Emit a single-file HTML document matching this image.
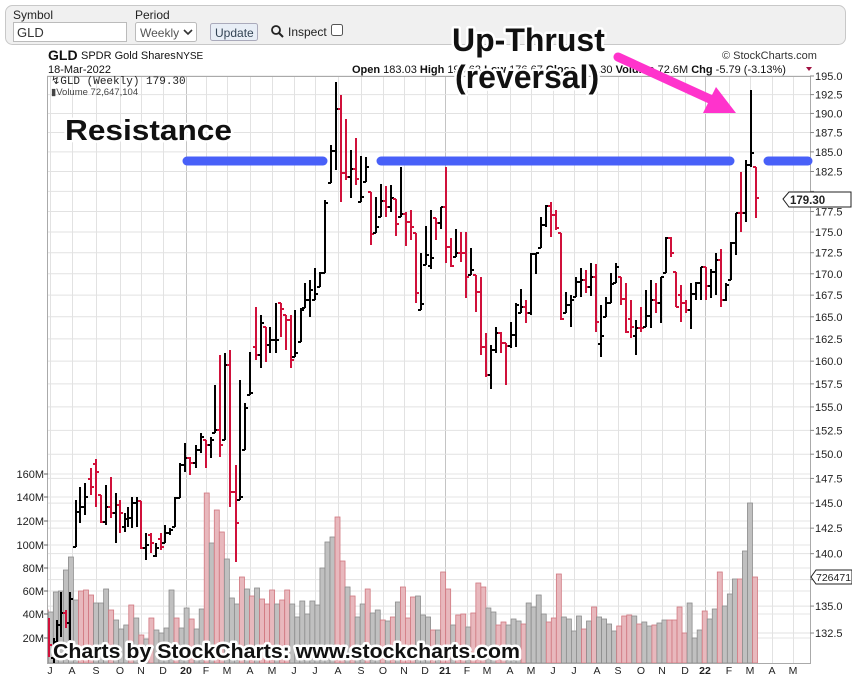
<!DOCTYPE html>
<html><head><meta charset="utf-8"><style>
html,body{margin:0;padding:0;background:#fff;width:852px;height:683px;overflow:hidden;font-family:"Liberation Sans",Arial,sans-serif;}
</style></head><body>
<svg id="s" width="852" height="683" xmlns="http://www.w3.org/2000/svg" font-family="Liberation Sans, Arial, sans-serif">
<defs><clipPath id="pc"><rect x="47" y="76" width="763" height="587"/></clipPath></defs>
<rect x="5.5" y="5.5" width="840" height="39" rx="7" fill="#f0f0f0" stroke="#c8c8c8"/>
<text x="13" y="19" font-size="12" fill="#222">Symbol</text>
<rect x="13.5" y="22.5" width="113" height="19" fill="#fff" stroke="#bbb"/>
<text x="17" y="37" font-size="13" fill="#333">GLD</text>
<text x="135" y="19" font-size="12" fill="#222">Period</text>
<rect x="135.5" y="22.5" width="61" height="19" rx="2" fill="#fff" stroke="#bbb"/>
<text x="140" y="37" font-size="12" fill="#555">Weekly</text>
<path d="M184 30 l4 4 l4 -4" stroke="#333" stroke-width="1.6" fill="none"/>
<rect x="210.5" y="23.5" width="47" height="17" rx="2" fill="#e8eef6" stroke="#aab"/>
<text x="215" y="37" font-size="12" fill="#345">Update</text>
<circle cx="276" cy="30" r="4" stroke="#222" stroke-width="1.8" fill="none"/><path d="M279 33 l4 4" stroke="#222" stroke-width="2"/>
<text x="288" y="36" font-size="12" fill="#222">Inspect</text>
<rect x="331.5" y="24.5" width="11" height="11" rx="2" fill="#fff" stroke="#555"/>
<text x="48" y="60" font-size="14" font-weight="bold" fill="#111">GLD</text>
<text x="81" y="59" font-size="11" fill="#111">SPDR Gold Shares</text>
<text x="176" y="59" font-size="10" fill="#111">NYSE</text>
<text x="48" y="73" font-size="11" fill="#111">18-Mar-2022</text>
<text x="352" y="73" font-size="11" fill="#111"><tspan font-weight="bold">Open</tspan> 183.03 <tspan font-weight="bold">High</tspan> 193.63 <tspan font-weight="bold">Low</tspan> 176.67 <tspan font-weight="bold">Close</tspan> 179.30 <tspan font-weight="bold">Volume</tspan> 72.6M <tspan font-weight="bold">Chg</tspan> -5.79 (-3.13%)</text>
<path d="M806 67 l6 0 l-3 4z" fill="#a01040"/>
<text x="722" y="59" font-size="11" fill="#333">© StockCharts.com</text>
<g id="grid"></g>
<g id="vol" clip-path="url(#pc)"></g>
<g id="price" clip-path="url(#pc)"></g>
<rect x="47.5" y="76.5" width="763" height="587" fill="none" stroke="#aaa"/>
<g id="axes" font-size="11" fill="#222"></g>
<text x="51" y="84" font-size="11" font-family="Liberation Mono, monospace" fill="#222">↯GLD (Weekly) 179.30</text>
<text x="51" y="95" font-size="9.5" fill="#444">▮Volume 72,647,104</text>
<g font-weight="bold" fill="#111" stroke="#fff" stroke-width="5" paint-order="stroke" stroke-linejoin="round">
<text x="65" y="140" font-size="29" textLength="167" lengthAdjust="spacingAndGlyphs">Resistance</text>
<text x="452" y="51" font-size="32">Up-Thrust</text>
<text x="455" y="88" font-size="32">(reversal)</text>
<text x="53" y="658" font-size="20" textLength="467" lengthAdjust="spacingAndGlyphs">Charts by StockCharts:  www.stockcharts.com</text>
</g>
<g stroke="#4860f8" stroke-width="9" stroke-linecap="round">
<line x1="187" y1="161" x2="323" y2="161"/><line x1="381" y1="161" x2="730" y2="161"/><line x1="768" y1="161" x2="808" y2="161"/>
</g>
<line x1="618" y1="57" x2="712" y2="100" stroke="#ff33cc" stroke-width="9" stroke-linecap="round"/>
<polygon points="703,113 736,113 716,87" fill="#ff33cc"/>
</svg>
<script>
const NS="http://www.w3.org/2000/svg";
function el(p,t,a,txt){const e=document.createElementNS(NS,t);for(const k in a)e.setAttribute(k,a[k]);if(txt!==undefined)e.textContent=txt;document.getElementById(p).appendChild(e);return e;}
const Y=p=>76+1441.5*(5.2730-Math.log(p));
const mx=[50,72,96,120,141,163,186,206,227,250,272,294,315,338,361,383,404,425,445,467,487,510,531,553,574,597,618,641,662,685,705,729,750,772,793];
const ml=["J","A","S","O","N","D","20","F","M","A","M","J","J","A","S","O","N","D","21","F","M","A","M","J","J","A","S","O","N","D","22","F","M","A","M"];
mx.forEach((x,i)=>{el("grid","line",{x1:x+.5,x2:x+.5,y1:77,y2:663,stroke:/\d/.test(ml[i])?"#c4c4c4":"#e2e2e2"});
 el("axes","text",{x:x,y:674,"text-anchor":"middle","font-size":"10.5","font-weight":/\d/.test(ml[i])?"bold":"normal"},ml[i]);});
for(let p=132.5;p<=195.01;p+=2.5){const y=Y(p);el("grid","line",{x1:47,x2:810,y1:y,y2:y,stroke:"#e2e2e2"});
 el("axes","line",{x1:810,x2:814,y1:y,y2:y,stroke:"#888"});
 if(Math.abs(p-180)>0.1)el("axes","text",{x:815,y:y+4,"font-size":"11"},p.toFixed(1));}
const vl=[["160M",474],["140M",497],["120M",521],["100M",545],["80M",568],["60M",591],["40M",614],["20M",638]];
vl.forEach(([t,y])=>{el("grid","line",{x1:47,x2:810,y1:y,y2:y,stroke:"#e6e6e6"});el("axes","text",{x:44,y:y+4,"text-anchor":"end","font-size":"11"},t);el("axes","line",{x1:44,x2:48,y1:y,y2:y,stroke:"#666"});});
el("axes","path",{d:"M783 199 l6 -7 h62 v15 h-62z",fill:"#fff",stroke:"#222"});
el("axes","text",{x:790,y:204,"font-size":"11.5","font-weight":"bold"},"179.30");
el("axes","path",{d:"M811 577 l5 -7 h36 v14 h-36z",fill:"#fff",stroke:"#222"});
el("axes","text",{x:816,y:581,"font-size":"10.5"},"726471");
const vt=[579,610,612,592,591,570,557,600,591,590,595,603,603,589,610,620,629,625,605,618,635,639,618,630,633,628,590,618,628,608,619,629,609,493,543,510,532,559,598,604,577,589,596,588,599,604,590,604,600,
590,604,617,601,614,601,605,568,542,537,517,561,587,596,617,604,589,613,610,620,621,617,602,587,618,597,596,615,617,630,630,572,589,625,615,614,627,613,583,587,608,612,625,622,625,619,621,624,603,607,595,614,622,618,574,617,
619,631,616,629,621,607,617,619,624,631,626,616,615,616,624,622,626,625,623,620,620,620,607,633,603,638,630,611,619,609,572,606,594,579,579,551,503,577];
const vr=[0,1,0,0,0,0,0,0,1,1,1,0,0,0,1,0,0,0,1,0,1,0,1,0,0,0,0,1,0,0,1,0,0,1,0,1,1,0,0,0,1,0,1,0,1,1,1,0,1,
1,0,0,0,0,0,0,0,0,0,1,1,0,1,0,0,1,0,0,1,0,1,0,1,1,1,0,0,0,1,0,1,1,0,1,1,0,1,1,1,0,0,1,1,0,0,0,1,0,0,0,0,1,1,1,0,
0,0,0,1,0,1,0,0,0,0,1,1,1,0,1,0,0,1,0,0,1,1,1,1,0,0,0,1,0,0,1,0,0,0,1,0,0,1];
const n=vt.length;
vt.forEach((t,i)=>{const x=755-(n-1-i)*5.03-2.5;const r=vr[i];
 el("vol","rect",{x:x,y:t,width:5,height:663-t,fill:r?"#e8b8bd":"#c0c0c0",stroke:r?"#d07880":"#8c8c8c","stroke-width":0.8});});
const P=[[49,618,657,645,1],[54,638,665,650,0],[57,620,642,625,0],[61,592,637,613,0],[66,610,628,623,1],[70,592,640,599,0],
[76,500,547,512,0],[80,487,523,507,0],[85,483,515,497,0],[91,468,495,487,1],[96,459,507,472,1],[101,495,523,522,1],[106,485,525,507,0],[111,477,518,513,1],[116,493,543,505,0],[120,500,533,513,1],[125,513,532,519,0],[128,507,527,518,0],[132,497,528,503,0],[137,497,527,501,0],[141,501,549,548,1],[146,533,560,545,0],[151,533,553,543,1],[156,543,557,548,0],[161,533,550,547,1],[165,525,543,533,0],[170,528,535,530,0],[175,497,527,498,0],[180,463,498,465,0],[185,443,472,458,0],[190,457,475,463,1],[196,445,468,450,0],[201,433,453,437,0],[206,440,468,445,1],[211,437,458,440,0],[215,385,433,430,0],[220,355,457,445,1],[225,353,440,365,0],[230,350,507,492,1],[236,465,562,523,1],[240,380,500,497,0],[245,403,450,408,0],[250,352,395,393,0],[256,307,360,355,1],[261,315,368,323,0],[266,327,362,345,1],[270,327,353,340,0],[276,303,353,340,0],[281,303,337,309,1],[286,315,350,320,1],[291,315,368,360,1],[295,310,357,353,0],[301,308,342,310,0],[305,283,308,300,0],[310,280,317,290,0],
[315,268,300,294,0],[320,272,287,273,0],[325,200,273,203,0],[331,145,183,151,0],[336,82,170,109,0],[341,95,202,173,1],[346,119,180,177,1],[351,150,198,169,0],[356,138,185,179,1],[361,156,202,197,0],[366,157,182,167,0],[371,192,245,234,1],[376,197,233,227,0],[381,184,217,201,0],[386,186,217,207,1],[391,185,212,198,0],[396,199,236,224,1],[401,167,217,214,0],[406,212,246,222,1],[411,210,240,227,1],[416,233,303,293,1],[421,253,310,304,0],[426,226,265,255,0],[431,210,269,258,0],[436,218,240,223,1],[441,207,229,207,0],[446,167,263,247,1],[451,238,267,266,1],[456,229,257,253,0],[461,232,262,253,1],[466,232,298,277,1],[471,248,275,270,0],[476,275,312,292,1],[481,277,355,347,1],[486,333,377,375,1],[491,345,389,350,0],[496,327,353,333,0],[501,332,353,343,1],[506,343,385,346,1],[511,322,348,335,0],[516,303,347,305,0],[521,289,313,307,0],[526,300,323,313,1],[531,253,315,254,0],[536,253,274,253,0],[541,217,248,225,0],[546,205,227,206,0],
[551,202,237,215,1],[556,210,230,228,1],[561,233,320,319,1],[566,292,313,305,0],[571,295,327,300,0],[576,277,297,282,0],[581,268,297,280,0],[586,270,293,287,1],[591,263,296,277,0],[596,264,332,322,1],[601,305,357,336,0],[606,297,317,303,0],[611,273,303,284,0],[616,263,283,267,0],[621,277,305,299,1],[626,283,333,332,1],[631,300,338,327,1],[636,320,355,328,0],[641,307,332,328,1],[646,290,327,316,0],[651,280,328,300,0],[656,283,313,303,1],[661,277,323,277,0],[666,237,273,238,0],[671,237,257,253,1],[676,272,307,307,1],[681,285,322,303,1],[686,300,313,310,1],[691,283,329,294,0],[696,282,300,283,0],[701,267,300,267,0],[706,267,300,286,1],[711,269,298,272,0],[716,253,295,260,0],[721,249,307,300,1],[726,283,301,285,0],[731,242,280,243,0],[736,213,255,213,0],[741,172,232,213,1],[746,160,222,165,0],[751,90,167,153,0],[756,167,218,198,1]];
let prev=null;
P.forEach(([x,t,b,c,r])=>{const col=r?"#d0103a":"#000";let o=prev===null?(r?c-6:c+6):prev;
 if(r&&o>c)o=Math.max(t,c-8); if(!r&&o<c)o=Math.min(b,c+8); o=Math.min(Math.max(o,t),b);
 el("price","line",{x1:x,x2:x,y1:t,y2:b,stroke:col,"stroke-width":2});
 el("price","line",{x1:x-3,x2:x,y1:o,y2:o,stroke:col,"stroke-width":2});
 el("price","line",{x1:x,x2:x+3,y1:c,y2:c,stroke:col,"stroke-width":2});
 prev=c;});
</script>
</body></html>
